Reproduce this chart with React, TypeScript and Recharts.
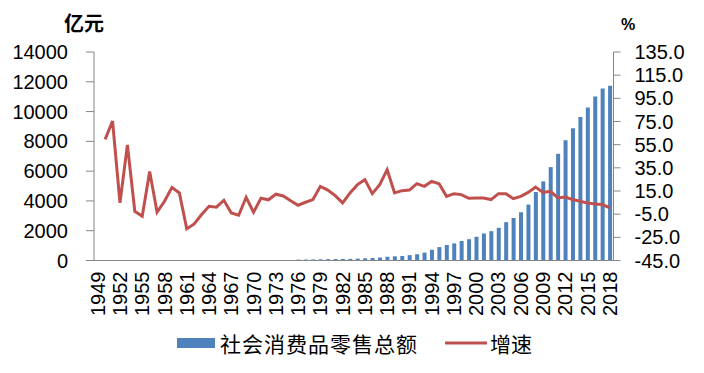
import React from 'react';
import { ComposedChart, Bar, Line, XAxis, YAxis, Legend } from 'recharts';

const years: string[] = [
  '1949', '1950', '1951', '1952', '1953', '1954', '1955', '1956', '1957', '1958',
  '1959', '1960', '1961', '1962', '1963', '1964', '1965', '1966', '1967', '1968',
  '1969', '1970', '1971', '1972', '1973', '1974', '1975', '1976', '1977', '1978',
  '1979', '1980', '1981', '1982', '1983', '1984', '1985', '1986', '1987', '1988',
  '1989', '1990', '1991', '1992', '1993', '1994', '1995', '1996', '1997', '1998',
  '1999', '2000', '2001', '2002', '2003', '2004', '2005', '2006', '2007', '2008',
  '2009', '2010', '2011', '2012', '2013', '2014', '2015', '2016', '2017', '2018',
];

// 社会消费品零售总额 (亿元), 1949-2018
const retailTotal: (number | null)[] = [
  null, null, null, null, null, null, null, null, null, null,
  null, null, null, null, null, null, null, null, null, null,
  null, null, null, null, null, null, null, 60, 65, 70,
  80, 90, 95, 100, 110, 125, 150, 170, 200, 250,
  280, 300, 360, 420, 530, 720, 900, 1040, 1150, 1310,
  1430, 1593, 1815, 1971, 2192, 2573, 2862, 3241, 3755, 4598,
  5313, 6270, 7162, 8075, 8877, 9634, 10281, 11016, 11551, 11728,
];

// 增速 (%), 1949-2018
const growthRate: (number | null)[] = [
  null, 59.6, 75.4, 4.7, 54.8, -2.5, -6.8, 31.9, -3.3, 6.1,
  18.1, 13.3, -17.7, -13.4, -5.3, 1.8, 1.0, 7.0, -3.9, -5.9,
  9.6, -3.3, 8.7, 7.4, 12.2, 10.7, 6.5, 2.7, 5.3, 7.6,
  19.0, 15.8, 11.0, 4.7, 13.3, 20.5, 24.8, 12.7, 20.5, 33.4,
  13.3, 15.3, 15.8, 21.3, 19.0, 23.3, 21.3, 10.4, 12.7, 11.9,
  8.7, 9.0, 9.0, 7.6, 12.7, 12.7, 8.4, 10.4, 13.8, 18.4,
  13.8, 14.7, 9.0, 9.8, 7.6, 6.1, 4.7, 3.8, 3.3, 0.4,
];

const leftTicks = [0, 2000, 4000, 6000, 8000, 10000, 12000, 14000];
const rightTicks = [-45, -25, -5, 15, 35, 55, 75, 95, 115, 135];

const seriesNames = { retail: '社会消费品零售总额', growth: '增速' };
const leftUnit = '亿元';
const rightUnit = '%';

const data = years.map((year, i) => ({
  year,
  retail: retailTotal[i],
  growth: growthRate[i],
}));

const BLUE = '#4F81BD';
const RED = '#C0504D';
const AXIS = '#868686';
const NUM_FONT = '"Liberation Sans", Arial, sans-serif';
const CJK_FONT = '"Noto Sans CJK SC", "Noto Sans", sans-serif';

const XTick = (props: any) => {
  const { x, y, payload } = props;
  return (
    <text
      x={x}
      y={y}
      transform={`rotate(-90, ${x}, ${y})`}
      textAnchor="end"
      dominantBaseline="central"
      fontFamily={NUM_FONT}
      fontSize={20}
      fill="#000"
    >
      {payload.value}
    </text>
  );
};

const LegendContent = () => (
  <svg width={704} height={40} style={{ display: 'block' }}>
    <rect x={177} y={15} width={38} height={10} fill={BLUE} />
    <text x={220} y={20} dominantBaseline="central" fontFamily={CJK_FONT} fontSize={21} letterSpacing={1} fill="#000">
      {seriesNames.retail}
    </text>
    <line x1={445} y1={20} x2={487} y2={20} stroke={RED} strokeWidth={3} />
    <text x={490} y={20} dominantBaseline="central" fontFamily={CJK_FONT} fontSize={21} fill="#000">
      {seriesNames.growth}
    </text>
  </svg>
);

export default function App() {
  return (
    <div style={{ position: 'absolute', left: 0, top: 0, width: 704, height: 373, background: '#fff' }}>
      <div
        style={{
          position: 'absolute',
          left: 64,
          top: 10,
          fontFamily: CJK_FONT,
          fontSize: 20,
          fontWeight: 700,
          color: '#000',
          lineHeight: '26px',
        }}
      >
        {leftUnit}
      </div>
      <div
        style={{
          position: 'absolute',
          left: 621,
          top: 13,
          fontFamily: NUM_FONT,
          fontSize: 16,
          fontWeight: 700,
          color: '#000',
          lineHeight: '24px',
        }}
      >
        {rightUnit}
      </div>
      <ComposedChart
        width={704}
        height={373}
        data={data}
        margin={{ top: 52, right: 0, bottom: 10, left: 0 }}
        barSize={4}
      >
        <XAxis
          dataKey="year"
          interval={2}
          tickLine={false}
          tickSize={0}
          tickMargin={11}
          height={62.5}
          axisLine={{ stroke: AXIS, strokeWidth: 1 }}
          tick={<XTick />}
        />
        <YAxis
          yAxisId="left"
          orientation="left"
          width={94}
          domain={[0, 14000]}
          ticks={leftTicks}
          interval={0}
          tickSize={8}
          tickMargin={18}
          axisLine={{ stroke: AXIS }}
          tickLine={{ stroke: AXIS }}
          tick={{ fill: '#000', fontSize: 20, fontFamily: NUM_FONT }}
        />
        <YAxis
          yAxisId="right"
          orientation="right"
          width={90.5}
          domain={[-45, 135]}
          ticks={rightTicks}
          interval={0}
          tickSize={7}
          tickMargin={14}
          tickFormatter={(v: number) => v.toFixed(1)}
          axisLine={{ stroke: AXIS }}
          tickLine={{ stroke: AXIS }}
          tick={{ fill: '#000', fontSize: 20, fontFamily: NUM_FONT }}
        />
        <Legend verticalAlign="bottom" height={40} content={<LegendContent />} />
        <Bar yAxisId="left" dataKey="retail" name={seriesNames.retail} fill={BLUE} isAnimationActive={false} />
        <Line
          yAxisId="right"
          dataKey="growth"
          name={seriesNames.growth}
          stroke={RED}
          strokeWidth={3}
          dot={false}
          activeDot={false}
          type="linear"
          connectNulls={false}
          isAnimationActive={false}
        />
      </ComposedChart>
    </div>
  );
}
